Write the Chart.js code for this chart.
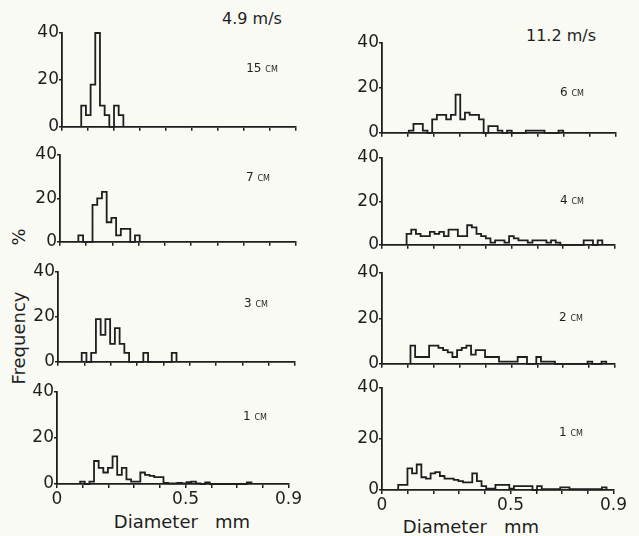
<!DOCTYPE html>
<html>
<head>
<meta charset="utf-8">
<script src="https://cdn.jsdelivr.net/npm/chart.js@4.4.1/dist/chart.umd.min.js"></script>
<style>
    body { margin: 0; background: #fafaf5; }
    #figure { position: relative; width: 639px; height: 536px; overflow: hidden; font-family: 'DejaVu Sans', sans-serif; color: #1e1e1e; }
    .panel { position: absolute; }
    .txt { position: absolute; transform: translate(-50%, -50%); white-space: pre; }
    .speed { font-size: 16px; }
    .height { font-size: 12px; font-variant: small-caps; }
    .axis-title { font-size: 18px; }
    .rot { transform: translate(-50%, -50%) rotate(-90deg); }
</style>
</head>
<body>
<div id="figure">
    <div class="txt speed" style="left:252px; top:18px;">4.9 m/s</div>
    <div class="txt speed" style="left:561px; top:35px;">11.2 m/s</div>
    <div class="txt axis-title" style="left:182px; top:521px;">Diameter   mm</div>
    <div class="txt axis-title" style="left:471px; top:526px;">Diameter   mm</div>
    <div class="txt axis-title rot" style="left:18px; top:338px;">Frequency</div>
    <div class="txt axis-title rot" style="left:18px; top:237px;">%</div>
</div>

<script>
// bin width of the size classes, mm
const binWidth = 0.018;

// heights above bed, one per panel (left column 4.9 m/s, right column 11.2 m/s)
const panelLabels = ['15 cm', '7 cm', '3 cm', '1 cm', '6 cm', '4 cm', '2 cm', '1 cm'];

// lower edge of the first bin of each panel, mm
const binStarts = [0.074, 0.07, 0.09, 0.09, 0.103, 0.095, 0.11, 0.063];

// frequency (%) per bin
const freqL15 = [9, 5, 18, 40, 9, 5, 0, 9, 5];
const freqL7 = [3, 0, 0, 17, 20, 23, 9, 11, 3, 6, 6, 0, 3];
const freqL3 = [4, 0, 4, 19, 12, 19, 8, 15, 8, 4, 0, 0, 0, 4, 0, 0, 0, 0, 0, 4];
const freqL1 = [1, 0, 1, 10, 7, 5, 7, 12, 4, 7, 2, 1, 1, 5, 4, 3.5, 3, 3, 0.5, 0.3, 0.3, 0.5, 0.3, 0.8, 1, 0.3, 0, 0.7, 0, 0, 0, 0, 0, 0, 0, 0, 0.7];
const freqR6 = [1, 4, 4, 1, 0, 6, 8, 8, 6, 8, 17, 6, 9, 8, 8, 6, 0, 3, 3, 1, 0, 1, 0, 0, 0, 1, 1, 1, 1, 0, 0, 0, 1];
const freqR4 = [5, 7, 5, 4, 4, 6, 5, 6, 4, 7, 7, 4, 4, 9, 8, 5, 4, 3, 1, 2, 2, 1, 4, 3, 2, 2, 1, 2, 2, 2, 1, 2, 1, 0, 0, 0, 0, 0, 2, 2, 0, 2];
const freqR2 = [8, 3, 3, 3, 8, 8, 7, 6, 5, 3, 6, 7, 8, 4, 6, 6, 3, 3, 3, 1, 1, 1, 1, 3, 3, 0, 0, 3, 1, 1, 1, 0, 0, 0, 0, 0, 0, 0, 1, 0, 0, 1];
const freqR1 = [2, 2, 8.5, 6.5, 10, 5, 4.5, 6.5, 7, 5.5, 4.5, 4.5, 4, 3.5, 3, 3, 6.5, 3.5, 1.5, 0.5, 0.5, 2, 2, 2, 0.5, 1.5, 1.5, 1.5, 1.5, 0, 1.5, 0.3, 0.3, 0.3, 0.3, 1, 1, 0.3, 0.3, 0.3, 0.3, 0.3, 0.3, 0.3, 1];

const panelFreqs = [freqL15, freqL7, freqL3, freqL1, freqR6, freqR4, freqR2, freqR1];

// axis ranges and labelled ticks
const xMax = 0.9;
const yMax = 40;
const xTickLabels = [0, 0.5, 0.9];
const yTickStep = 20;

// where each panel's axes sit on the page (px): y-axis x, x at 0.9, y at 40, y at 0
const panelBoxes = [
    { axisX: 62, x09: 296, y40: 33, y0: 131, bottom: false },
    { axisX: 60, x09: 296, y40: 155, y0: 246, bottom: false },
    { axisX: 58, x09: 295, y40: 272, y0: 366, bottom: false },
    { axisX: 57, x09: 289, y40: 392, y0: 484, bottom: true },
    { axisX: 382, x09: 616, y40: 43, y0: 137, bottom: false },
    { axisX: 382, x09: 615, y40: 158, y0: 249, bottom: false },
    { axisX: 382, x09: 615, y40: 273, y0: 368, bottom: false },
    { axisX: 382, x09: 614, y40: 388, y0: 490, bottom: true }
];
const labelPos = [
    [262, 68], [258, 177], [256, 303], [255, 416],
    [572, 92], [572, 200], [571, 317], [571, 432]
];

document.addEventListener('DOMContentLoaded', () => {

    const fig = document.getElementById('figure');
    const ink = '#1e1e1e';
    const tickFont = { family: "'DejaVu Sans', sans-serif", size: 17 };
    const yW = 34;       // room for the y tick labels
    const padTop = 12;
    const padRight = 14;

    // --- 1. histogram outline as a stepped line ---
    const toSteps = (start, counts) => {
        const pts = [{ x: start, y: 0 }];
        counts.forEach((c, i) => pts.push({ x: start + i * binWidth, y: c }));
        pts.push({ x: start + counts.length * binWidth, y: 0 });
        return pts;
    };

    // --- 2. one small chart per panel ---
    panelBoxes.forEach((box, i) => {
        const xH = box.bottom ? 30 : 6;
        const plotW = box.x09 - box.axisX;
        const plotH = box.y0 - box.y40;

        const div = document.createElement('div');
        div.className = 'panel';
        div.style.left = (box.axisX - yW) + 'px';
        div.style.top = (box.y40 - padTop) + 'px';
        const canvas = document.createElement('canvas');
        canvas.width = yW + plotW + padRight;
        canvas.height = padTop + plotH + xH;
        div.appendChild(canvas);
        fig.appendChild(div);

        new Chart(canvas, {
            type: 'line',
            data: {
                datasets: [{
                    data: toSteps(binStarts[i], panelFreqs[i]),
                    stepped: 'before',
                    borderColor: ink,
                    borderWidth: 1.8,
                    pointRadius: 0,
                    fill: false,
                    clip: false
                }]
            },
            options: {
                responsive: false,
                animation: false,
                layout: { padding: { top: padTop, right: padRight, left: 0, bottom: 0 } },
                plugins: { legend: { display: false }, tooltip: { enabled: false } },
                scales: {
                    x: {
                        type: 'linear',
                        min: 0,
                        max: xMax,
                        ticks: {
                            display: box.bottom,
                            stepSize: 0.1,
                            autoSkip: false,
                            maxRotation: 0,
                            padding: 1,
                            color: ink,
                            font: tickFont,
                            callback: (v) => {
                                const r = Math.round(v * 10) / 10;
                                return xTickLabels.includes(r) ? String(r) : '';
                            }
                        },
                        grid: { drawOnChartArea: false, drawTicks: true, tickLength: 4, color: ink, lineWidth: 1.5 },
                        border: { color: ink, width: 1.8 },
                        afterFit: (s) => { s.height = xH; }
                    },
                    y: {
                        min: 0,
                        max: yMax,
                        ticks: { stepSize: yTickStep, padding: 0, color: ink, font: tickFont },
                        grid: { drawOnChartArea: false, drawTicks: true, tickLength: 3, color: ink, lineWidth: 1.5 },
                        border: { color: ink, width: 1.8 },
                        afterFit: (s) => { s.width = yW; }
                    }
                }
            }
        });

        const lab = document.createElement('div');
        lab.className = 'txt height';
        lab.style.left = labelPos[i][0] + 'px';
        lab.style.top = labelPos[i][1] + 'px';
        lab.textContent = panelLabels[i];
        fig.appendChild(lab);
    });

});
</script>
</body>
</html>
